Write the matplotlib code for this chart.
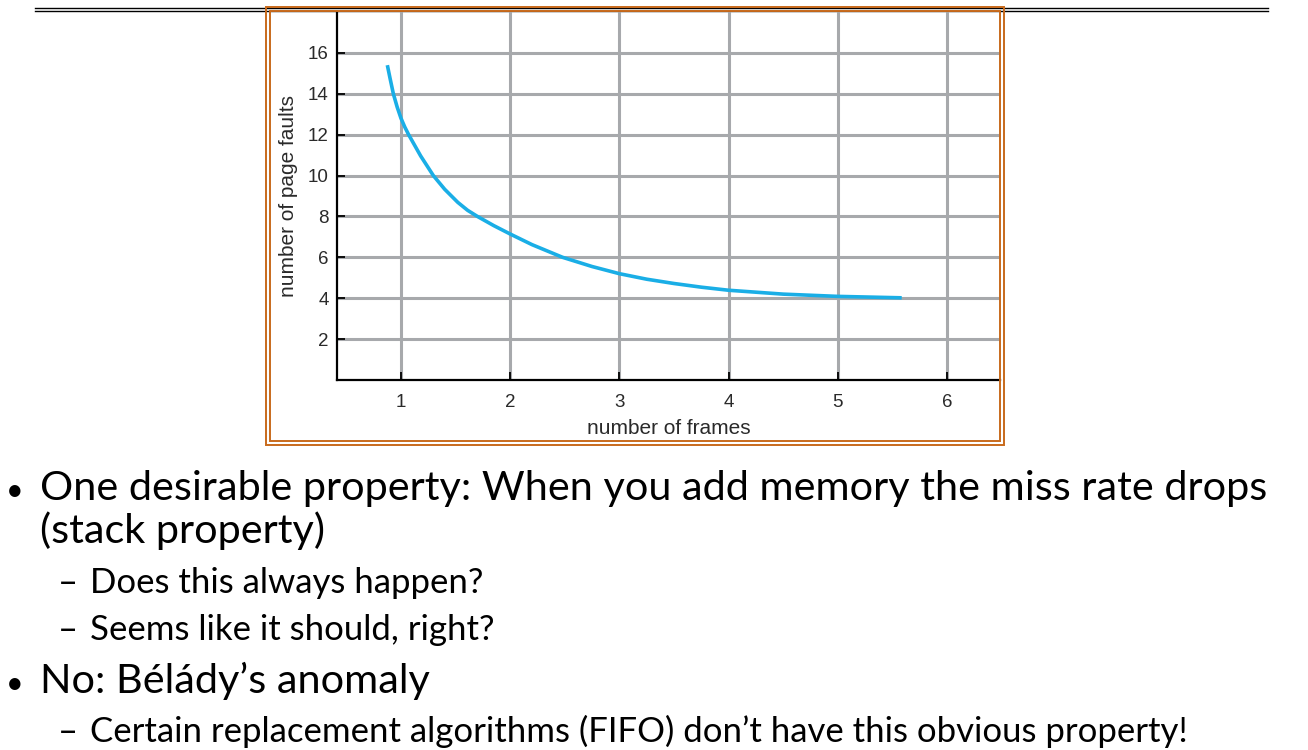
import matplotlib.pyplot as plt
from matplotlib.patches import Rectangle
from matplotlib.lines import Line2D

W, H = 1308, 750

frames = [0.875, 0.90, 0.93, 0.965, 1.0, 1.035, 1.07, 1.18, 1.296, 1.40, 1.52, 1.61, 1.70, 1.85,
		  2.0, 2.2, 2.48, 2.75, 3.0, 3.25, 3.5, 3.75, 4.0, 4.5, 5.0, 5.585]
faults = [15.4, 14.75, 14.0, 13.35, 12.8, 12.37, 12.0, 10.96, 10.0, 9.33, 8.69, 8.30, 8.0, 7.55,
		  7.14, 6.62, 6.0, 5.55, 5.2, 4.93, 4.72, 4.54, 4.39, 4.2, 4.09, 4.02]
x_ticks = [1, 2, 3, 4, 5, 6]
y_ticks = [2, 4, 6, 8, 10, 12, 14, 16]

bullets = [
	(0, "One desirable property: When you add memory the miss rate drops"),
	(0, "(stack property)"),
	(1, "Does this always happen?"),
	(1, "Seems like it should, right?"),
	(0, "No: Bélády’s anomaly"),
	(1, "Certain replacement algorithms (FIFO) don’t have this obvious property!"),
]
baselines = [500, 543, 593, 640, 693, 742]
has_bullet = [True, False, False, False, True, False]


def fx(px):
	return px / W


def fy(py):
	return 1 - py / H


fig = plt.figure(figsize=(W / 100, H / 100), dpi=100)

# black double rule across the top, the chart frame sits over it
for yy in (7.5, 11):
	fig.add_artist(Line2D([fx(35), fx(1268)], [fy(yy), fy(yy)], color='black', lw=1.0, zorder=-2))

ax = fig.add_axes([fx(337), fy(380), fx(1000) - fx(337), fy(12) - fy(380)])
ax.set_xlim(0.414, 6.485)
ax.set_ylim(0, 18)
ax.set_facecolor('none')

grid_c = '#a7a9ac'
for xv in x_ticks:
	ax.axvline(xv, color=grid_c, lw=2.2, zorder=1)
for yv in y_ticks:
	ax.axhline(yv, color=grid_c, lw=2.2, zorder=1)

ax.plot(frames, faults, color='#1aaee6', lw=2.6, zorder=3, solid_capstyle='butt', solid_joinstyle='round')

for s in ['top', 'right']:
	ax.spines[s].set_visible(False)
for s in ['left', 'bottom']:
	ax.spines[s].set_linewidth(1.6)
	ax.spines[s].set_zorder(4)

ax.set_xticks(x_ticks)
ax.set_yticks(y_ticks)
ax.tick_params(direction='in', length=6, width=1.3, labelsize=13.5, colors='black')
ax.tick_params(axis='x', pad=10)
ax.tick_params(axis='y', pad=6)
for lab in ax.get_xticklabels() + ax.get_yticklabels():
	lab.set_family('Liberation Sans')
	lab.set_color('#2a2a2a')
ax.set_xlabel('number of frames', family='Liberation Sans', fontsize=15, color='#2a2a2a', labelpad=6)
ax.set_ylabel('number of page faults', family='Liberation Sans', fontsize=15, color='#2a2a2a', labelpad=7)

# orange double frame around the chart
orange = '#c86a1c'
for x0, y0, x1, y1 in [(266, 7, 1004, 445), (270, 11, 1000, 441)]:
	fig.add_artist(Rectangle((fx(x0), fy(y1)), fx(x1) - fx(x0), fy(y0) - fy(y1),
							 fill=False, edgecolor=orange, lw=1.4, zorder=5))

# slide text
for (level, txt), base, bul in zip(bullets, baselines, has_bullet):
	if level == 0:
		if bul:
			fig.text(fx(6), fy(base), '•', fontsize=22, family='Lato', va='baseline')
		fig.text(fx(40), fy(base), txt, fontsize=29.8, family='Lato', va='baseline')
	else:
		fig.text(fx(58), fy(base), '–', fontsize=25, family='Lato', va='baseline')
		fig.text(fx(90), fy(base), txt, fontsize=25, family='Lato', va='baseline')

fig.savefig('out.png', dpi=100)
